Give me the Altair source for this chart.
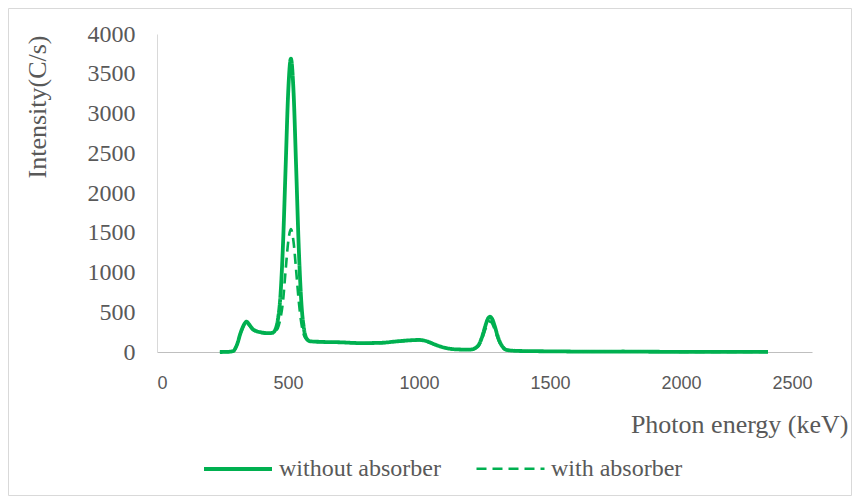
import altair as alt
import pandas as pd

# Photon energy grid (keV)
energy = [240, 270, 290, 305, 320, 335, 342, 352, 365, 380, 400, 420, 440, 452,
          461, 471, 481, 491, 501, 511, 521, 531, 541, 551, 561, 571, 585,
          620, 700, 780, 850, 920, 970, 1000, 1030, 1060, 1100, 1150, 1195,
          1225, 1235, 1245, 1253, 1263, 1271, 1279, 1289, 1299, 1309, 1319, 1335,
          1373, 1450, 1550, 1650, 1780, 1850, 2000, 2150, 2332]

# Intensity (C/s) without absorber
without_absorber = [0, 2, 10, 90, 250, 360, 382, 345, 290, 262, 245, 238, 240, 283,
                    400, 700, 1360, 2330, 3285, 3690, 3285, 2330, 1320, 620, 290, 170, 135,
                    128, 122, 112, 115, 135, 148, 152, 135, 95, 52, 32, 30,
                    76, 138, 236, 326, 418, 444, 418, 326, 214, 123, 66, 26,
                    14, 10, 7, 4, 6, 4, 2, 1, 1]

# Intensity (C/s) with absorber
with_absorber = [0, 2, 10, 85, 240, 350, 370, 335, 280, 255, 240, 233, 235, 265,
                 300, 420, 640, 1030, 1390, 1545, 1390, 1030, 640, 360, 210, 155, 132,
                 126, 120, 110, 113, 132, 145, 148, 130, 92, 50, 31, 28,
                 67, 121, 204, 282, 360, 385, 360, 282, 186, 108, 59, 23,
                 13, 9, 6, 4, 5, 4, 2, 1, 1]

series_names = ["without absorber", "with absorber"]

df = pd.concat([
    pd.DataFrame({"energy": energy, "intensity": without_absorber, "series": series_names[0]}),
    pd.DataFrame({"energy": energy, "intensity": with_absorber, "series": series_names[1]}),
])

GREEN = "#00B050"
GRAY_TXT = "#595959"
SERIF = "Liberation Serif"
SANS = "Liberation Sans Narrow, Liberation Sans"

W, H = 655, 318
PAD = {"left": 149, "top": 26, "right": 40, "bottom": 144}

lines = alt.Chart(df).mark_line(interpolate="monotone").encode(
    x=alt.X("energy:Q",
            scale=alt.Scale(domain=[0, 2500], nice=False),
            axis=alt.Axis(values=[0, 500, 1000, 1500, 2000, 2500], format="d",
                          grid=False, ticks=False,
                          domainColor="#bfbfbf", labelFont=SANS, labelFontSize=18,
                          labelColor=GRAY_TXT, labelPadding=22,
                          title="Photon energy (keV)", titleFont=SERIF, titleFontSize=26,
                          titleFontWeight="normal", titleColor=GRAY_TXT,
                          titleX=691, titleY=80, titleAlign="right",
                          titleBaseline="alphabetic")),
    y=alt.Y("intensity:Q",
            scale=alt.Scale(domain=[0, 4000], nice=False),
            axis=alt.Axis(values=[0, 500, 1000, 1500, 2000, 2500, 3000, 3500, 4000],
                          format="d", grid=False, ticks=False, domainColor="#d9d9d9",
                          labelFont=SERIF, labelFontSize=24, labelColor=GRAY_TXT,
                          labelPadding=22,
                          title="Intensity(C/s)", titleFont=SERIF, titleFontSize=26,
                          titleFontWeight="normal", titleColor=GRAY_TXT,
                          titleAngle=-90, titleX=-120, titleY=1, titleAlign="right",
                          titleBaseline="middle")),
    color=alt.Color("series:N", title=None,
                    scale=alt.Scale(domain=series_names, range=[GREEN, GREEN]),
                    legend=alt.Legend(orient="none", legendX=45, legendY=399,
                                      direction="horizontal", symbolType="stroke",
                                      symbolSize=4624, labelFont=SERIF, labelFontSize=24,
                                      labelColor=GRAY_TXT, columnPadding=30,
                                      labelOffset=5, labelLimit=400)),
    strokeDash=alt.StrokeDash("series:N", title=None,
                              scale=alt.Scale(domain=series_names, range=[[1, 0], [10, 6]])),
    strokeWidth=alt.StrokeWidth("series:N", title=None,
                                scale=alt.Scale(domain=series_names, range=[3.8, 2.6])),
)

border = alt.Chart(alt.Data(values=[{"a": 1}])).mark_rect(
    filled=False, stroke="#d9d9d9", strokeWidth=1
).encode(
    x=alt.value(-PAD["left"] + 0.5), x2=alt.value(W + PAD["right"] - 0.5),
    y=alt.value(-PAD["top"] + 0.5), y2=alt.value(H + PAD["bottom"] - 0.5),
)

chart = alt.layer(border, lines).properties(
    width=W, height=H,
    autosize=alt.AutoSizeParams(type="none"),
    padding=PAD,
).configure_view(strokeWidth=0)

chart.save("out.html", embed_options={"renderer": "svg", "actions": False})
